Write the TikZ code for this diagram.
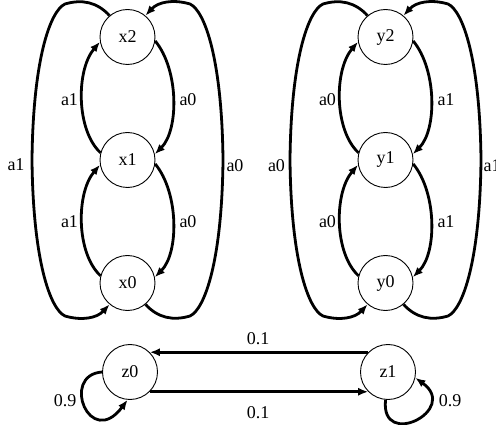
\documentclass[tikz,border=0pt]{standalone}
\usepackage{fontspec}
\setmainfont{Liberation Serif}
\usetikzlibrary{arrows.meta}
\begin{document}
\begin{tikzpicture}[x=1pt, y=-1pt,
  state/.style={circle, draw, line width=0.9pt, minimum size=55pt, inner sep=0pt,
                font=\fontsize{18}{20}\selectfont},
  edge/.style={line width=2.8pt, -{Latex[length=10pt,width=8pt]}},
  lbl/.style={inner sep=0pt, font=\fontsize{18}{20}\selectfont}]
\useasboundingbox (0,0) rectangle (496,425);
\clip (0,0) rectangle (496,425);

% states
\node[state] (x2) at (127.5,37)  {x2};
\node[state] (x1) at (127.5,160) {x1};
\node[state] (x0) at (127.5,283) {x0};
\node[state] (y2) at (385.5,37)  {y2};
\node[state] (y1) at (385.5,160) {y1};
\node[state] (y0) at (385.5,283) {y0};
\node[state] (z0) at (130,372) {z0};
\node[state] (z1) at (388,372) {z1};

% x chain
\draw[edge] (x2.130) .. controls (97,2) and (82,-1) .. (65,4)
  .. controls (50,11) and (33,60) .. (32,160)
  .. controls (33,260) and (50,309) .. (65,316)
  .. controls (82,321) and (97,318) .. (x0.-130);
\draw[edge] (x0.-50) .. controls (158,318) and (173,321) .. (190,316)
  .. controls (205,309) and (222,260) .. (223,160)
  .. controls (222,60) and (205,11) .. (190,4)
  .. controls (173,-1) and (158,2) .. (x2.50);
\draw[edge] (x1.165) .. controls (76,130) and (76,70) .. (x2.190);
\draw[edge] (x0.165) .. controls (76,253) and (76,193) .. (x1.190);
\draw[edge] (x2.-8) .. controls (179,70) and (179,130) .. (x1.12);
\draw[edge] (x1.-8) .. controls (179,193) and (179,253) .. (x0.12);

% y chain
\begin{scope}[xshift=258pt]
\draw[edge] (y2.130) .. controls (97,2) and (82,-1) .. (65,4)
  .. controls (50,11) and (33,60) .. (32,160)
  .. controls (33,260) and (50,309) .. (65,316)
  .. controls (82,321) and (97,318) .. (y0.-130);
\draw[edge] (y0.-50) .. controls (158,318) and (173,321) .. (190,316)
  .. controls (205,309) and (222,260) .. (223,160)
  .. controls (222,60) and (205,11) .. (190,4)
  .. controls (173,-1) and (158,2) .. (y2.50);
\draw[edge] (y1.165) .. controls (76,130) and (76,70) .. (y2.190);
\draw[edge] (y0.165) .. controls (76,253) and (76,193) .. (y1.190);
\draw[edge] (y2.-8) .. controls (179,70) and (179,130) .. (y1.12);
\draw[edge] (y1.-8) .. controls (179,193) and (179,253) .. (y0.12);
\end{scope}

% z chain
\draw[edge] (z1.135) -- (z0.45);
\draw[edge] (z0.-45) -- (z1.-135);
\draw[edge] (z0.180) .. controls (60,375) and (90,450) .. (z0.-95);
\draw[edge] (z1.-95) .. controls (380,450) and (460,410) .. (z1.-12);

% labels
\node[lbl] (lx1) at (16,165)   {a1};
\node[lbl] (lx2) at (69.5,100) {a1};
\node[lbl] (lx3) at (69.5,222) {a1};
\node[lbl] (lx4) at (188,100)  {a0};
\node[lbl] (lx5) at (188,222)  {a0};
\node[lbl] (lx6) at (235,166)  {a0};

\node[lbl] (ly1) at (276.5,166) {a0};
\node[lbl] (ly2) at (327.5,100) {a0};
\node[lbl] (ly3) at (327.5,222) {a0};
\node[lbl] (ly4) at (446,100)   {a1};
\node[lbl] (ly5) at (446,222)   {a1};
\node[lbl] (ly6) at (492,166)   {a1};

\node[lbl] (lz1) at (258,339) {0.1};
\node[lbl] (lz2) at (258,413) {0.1};
\node[lbl] (lz3) at (65,401)  {0.9};
\node[lbl] (lz4) at (450,401) {0.9};
\end{tikzpicture}
\end{document}
